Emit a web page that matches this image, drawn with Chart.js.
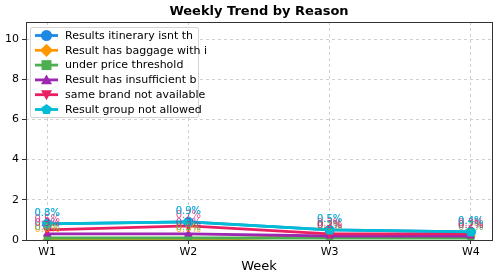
<!DOCTYPE html>
<html><head><meta charset="utf-8">
<script src="https://cdn.jsdelivr.net/npm/chart.js@4.4.1/dist/chart.umd.min.js"></script>
<style>html,body{margin:0;padding:0;background:#fff}#wrap{width:500px;height:280px}</style>
</head><body><div id="wrap"><canvas id="c" width="500" height="280"></canvas></div>
<script>
const weeks = ["W1","W2","W3","W4"];
const seriesNames = ["Results itinerary isnt th","Result has baggage with i","under price threshold","Result has insufficient b","same brand not available","Result group not allowed"];
const itineraryVals = [0.8,0.9,0.5,0.4];
const baggageVals = [0.0,0.0,0.2,0.2];
const priceVals = [0.1,0.1,0.1,0.1];
const insufficientVals = [0.3,0.3,0.2,0.2];
const brandVals = [0.5,0.7,0.3,0.3];
const groupVals = [0.8,0.9,0.5,0.4];
const yTicks = [0,2,4,6,8,10];

const colors = ["#1E88E5","#FF9800","#4CAF50","#9C27B0","#E91E63","#00BCD4"];
const allVals = [itineraryVals,baggageVals,priceVals,insufficientVals,brandVals,groupVals];

function pentagon(r,color){
  const c=document.createElement('canvas');c.width=c.height=Math.ceil(2*r+2);
  const g=c.getContext('2d');g.fillStyle=color;g.beginPath();
  for(let i=0;i<5;i++){const a=-Math.PI/2+i*2*Math.PI/5;const x=c.width/2+r*Math.cos(a),y=c.height/2+r*Math.sin(a);i?g.lineTo(x,y):g.moveTo(x,y);}
  g.closePath();g.fill();return c;
}
const pStyles = ['circle','rectRot','rect','triangle','triangle',pentagon(5.5,colors[5])];
const pRot = [0,0,0,0,180,0];

const datasets = allVals.map((vals,i)=>({
  label: seriesNames[i],
  data: vals.map((v,j)=>({x:j,y:v})),
  borderColor: colors[i], backgroundColor: colors[i],
  borderWidth: 2.8, pointStyle: pStyles[i], pointRotation: pRot[i],
  pointRadius: 5, pointBorderWidth: 0, order: -i
}));

function drawMarker(ctx,i,x,y,r){
  ctx.save();ctx.fillStyle=colors[i];ctx.beginPath();
  if(i===0){ctx.arc(x,y,r,0,2*Math.PI);}
  else if(i===1){ctx.moveTo(x,y-r*1.2);ctx.lineTo(x+r*1.2,y);ctx.lineTo(x,y+r*1.2);ctx.lineTo(x-r*1.2,y);}
  else if(i===2){ctx.rect(x-r*0.9,y-r*0.9,r*1.8,r*1.8);}
  else if(i===3){ctx.moveTo(x,y-r);ctx.lineTo(x+r,y+r*0.8);ctx.lineTo(x-r,y+r*0.8);}
  else if(i===4){ctx.moveTo(x,y+r);ctx.lineTo(x+r,y-r*0.8);ctx.lineTo(x-r,y-r*0.8);}
  else {for(let k=0;k<5;k++){const a=-Math.PI/2+k*2*Math.PI/5;const px=x+r*Math.cos(a),py=y+r*Math.sin(a);k?ctx.lineTo(px,py):ctx.moveTo(px,py);}}
  ctx.closePath();ctx.fill();ctx.restore();
}

const custom = {
  id:'custom',
  afterDatasetsDraw(chart){
    const ctx=chart.ctx, xs=chart.scales.x, ys=chart.scales.y;
    ctx.save();ctx.font='10px "DejaVu Sans"';ctx.textAlign='center';ctx.textBaseline='alphabetic';
    allVals.forEach((vals,i)=>{ctx.fillStyle=colors[i];ctx.globalAlpha=0.8;
      vals.forEach((v,j)=>{ctx.fillText(v.toFixed(1)+'%',xs.getPixelForValue(j),ys.getPixelForValue(v)-8);});});
    ctx.restore();
  },
  afterDraw(chart){
    const ctx=chart.ctx,a=chart.chartArea;
    ctx.save();
    ctx.strokeStyle='#333';ctx.lineWidth=1;ctx.strokeRect(Math.round(a.left)+0.5,Math.round(a.top)+0.5,Math.round(a.right-a.left),Math.round(a.bottom-a.top));
    ctx.fillStyle='#000';ctx.font='bold 13px "DejaVu Sans"';ctx.textAlign='center';ctx.textBaseline='middle';
    ctx.fillText('Weekly Trend by Reason',(a.left+a.right)/2,12);
    const lx=a.left+4,ly=a.top+5,lw=168,lh=90;
    ctx.globalAlpha=0.85;ctx.fillStyle='#fff';ctx.strokeStyle='#ccc';ctx.lineWidth=1;
    ctx.beginPath();ctx.roundRect(lx+0.5,ly+0.5,lw,lh,2);ctx.fill();ctx.stroke();ctx.globalAlpha=1;
    ctx.font='11px "DejaVu Sans"';ctx.textAlign='left';ctx.textBaseline='middle';
    seriesNames.forEach((n,i)=>{const y=ly+8.5+i*14.8;
      ctx.strokeStyle=colors[i];ctx.lineWidth=2.8;ctx.beginPath();ctx.moveTo(lx+5,y);ctx.lineTo(lx+28,y);ctx.stroke();
      drawMarker(ctx,i,lx+16.5,y,5.5);
      ctx.fillStyle='#000';ctx.fillText(n,lx+35,y+0.5);});
    ctx.restore();
  }
};

new Chart(document.getElementById('c'),{
  type:'line',
  data:{datasets},
  options:{
    responsive:false,animation:false,devicePixelRatio:1,
    layout:{padding:{top:22,right:8,left:0,bottom:6}},
    plugins:{legend:{display:false},title:{display:false},tooltip:{enabled:false}},
    scales:{
      x:{type:'linear',min:-0.15,max:3.15,
        afterBuildTicks(s){s.ticks=weeks.map((w,i)=>({value:i}));},
        afterFit(s){s.height=34;},
        ticks:{callback:(v)=>weeks[v],color:'#000',font:{family:'DejaVu Sans',size:11},padding:2,maxRotation:0},
        grid:{color:'#d0d0d0',tickColor:'#333',tickLength:4,tickBorderDash:[],drawOnChartArea:true},
        border:{display:false,dash:[3,3]},
        title:{display:true,text:'Week',color:'#000',font:{family:'DejaVu Sans',size:13},padding:{top:2,bottom:0}}
      },
      y:{min:0,max:10.85,
        afterBuildTicks(s){s.ticks=yTicks.map(v=>({value:v}));},
        afterFit(s){s.width=26;},
        ticks:{color:'#000',font:{family:'DejaVu Sans',size:11},padding:3},
        grid:{color:'#d0d0d0',tickColor:'#333',tickLength:4,tickBorderDash:[]},
        border:{display:false,dash:[3,3]}
      }
    }
  },
  plugins:[custom]
});
</script></body></html>
